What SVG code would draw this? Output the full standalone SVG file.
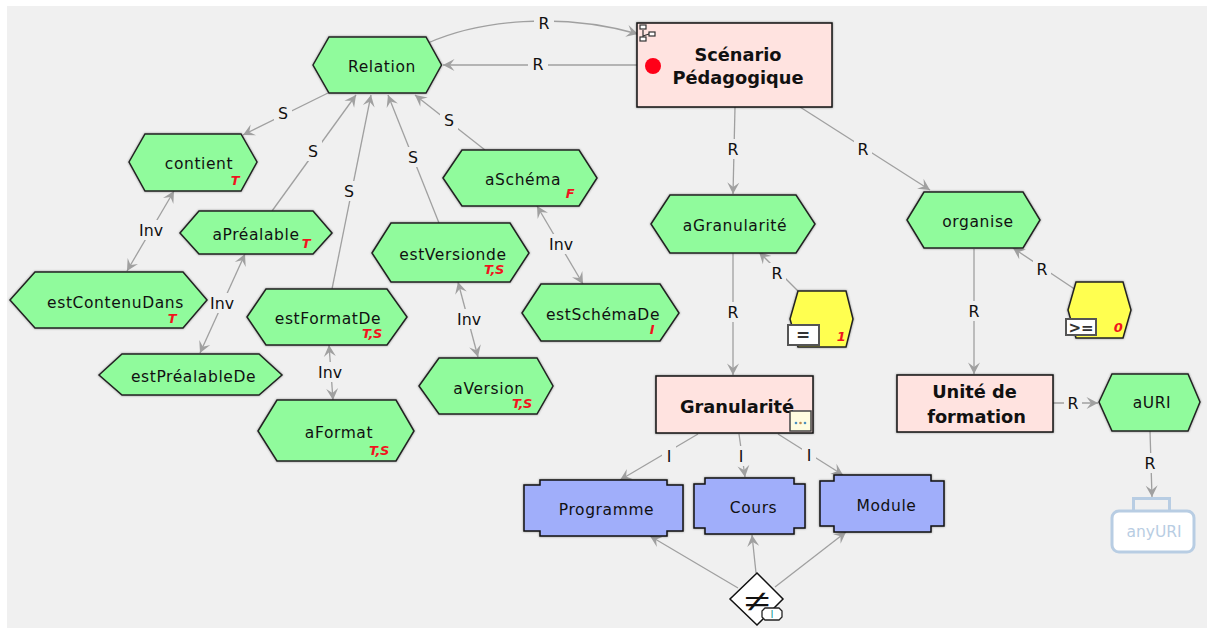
<svg xmlns="http://www.w3.org/2000/svg" width="1207" height="628" viewBox="0 0 1207 628">
<style>
text{font-family:"DejaVu Sans","Liberation Sans",sans-serif;text-anchor:middle;fill:#111}
.n{font-size:15.500px;letter-spacing:.6px}
.b{font-size:17.800px;font-weight:bold}
.l{font-size:15.800px}
.t{font-size:13px;font-weight:bold;font-style:italic;fill:#f0141e;letter-spacing:-.4px}
.h{fill:#90fb9c;stroke:#222;stroke-width:1.5}
.y{fill:#ffff50;stroke:#222;stroke-width:1.5}
.p{fill:#ffe3e0;stroke:#111;stroke-width:1.5}
.c{fill:#a0aefa;stroke:#111;stroke-width:1.5}
.h,.y,.p,.c{filter:drop-shadow(0 0 1px rgba(0,0,0,.4))}
.e{fill:none;stroke:#a0a0a0;stroke-width:1.300}
.a{marker-end:url(#ar)}
.d{marker-start:url(#ar);marker-end:url(#ar)}
.g{fill:#f0f0f0}
.tag{fill:#fff;stroke:#555;stroke-width:2}
</style>
<defs>
<marker id="ar" markerUnits="userSpaceOnUse" markerWidth="14" markerHeight="14" refX="13" refY="7" orient="auto-start-reverse" viewBox="0 0 14 14">
<path d="M1.500,1 L13,7 L1.500,13 L6,7 Z" fill="#a0a0a0"/>
</marker>
</defs>
<rect x="7" y="6" width="1200" height="622" class="g"/>
<g id="connectors">
<path class="e a" d="M428,43 C480,20 560,12 638,34"/>
<path class="e a" d="M637,65 L443,65"/>
<path class="e a" d="M328,93 L243,135"/>
<path class="e a" d="M272,211 L356,95"/>
<path class="e a" d="M332,289 L371,95"/>
<path class="e a" d="M439,223 L388,95"/>
<path class="e a" d="M485,150 L415,95"/>
<path class="e d" d="M127,271 L174,191"/>
<path class="e d" d="M200,353 L245,254"/>
<path class="e d" d="M333,400 L329,345"/>
<path class="e d" d="M478,357 L458,282"/>
<path class="e d" d="M583,284 L537,206"/>
<path class="e a" d="M735,107 L733,194"/>
<path class="e a" d="M800,107 L930,190"/>
<path class="e a" d="M733,253 L733,375"/>
<path class="e a" d="M798,291 L759,252"/>
<path class="e a" d="M1076,290 L1013,248"/>
<path class="e a" d="M974,249 L974,374"/>
<path class="e a" d="M1053,403 L1098,403"/>
<path class="e a" d="M1150,431 L1152,497"/>
<path class="e a" d="M698,434 L620,480"/>
<path class="e a" d="M739,434 L745,477"/>
<path class="e a" d="M778,434 L843,475"/>
<path class="e a" d="M738,588 L650,536"/>
<path class="e a" d="M756,573 L752,535"/>
<path class="e a" d="M775,587 L846,532"/>
<g id="edge-labels">
<rect class="g" x="534" y="13" width="20" height="20"/><text class="l" x="544" y="29">R</text>
<rect class="g" x="528" y="54" width="20" height="20"/><text class="l" x="538" y="70">R</text>
<rect class="g" x="274" y="103" width="18" height="20"/><text class="l" x="283" y="119">S</text>
<rect class="g" x="304" y="141" width="18" height="20"/><text class="l" x="313" y="157">S</text>
<rect class="g" x="340" y="181" width="18" height="20"/><text class="l" x="349" y="197">S</text>
<rect class="g" x="404" y="147" width="18" height="20"/><text class="l" x="413" y="163">S</text>
<rect class="g" x="440" y="110" width="18" height="20"/><text class="l" x="449" y="126">S</text>
<rect class="g" x="137" y="220" width="28" height="20"/><text class="l" x="151" y="236">Inv</text>
<rect class="g" x="208" y="293" width="28" height="20"/><text class="l" x="222" y="309">Inv</text>
<rect class="g" x="316" y="362" width="28" height="20"/><text class="l" x="330" y="378">Inv</text>
<rect class="g" x="455" y="309" width="28" height="20"/><text class="l" x="469" y="325">Inv</text>
<rect class="g" x="547" y="234" width="28" height="20"/><text class="l" x="561" y="250">Inv</text>
<rect class="g" x="724" y="139" width="18" height="20"/><text class="l" x="733" y="155">R</text>
<rect class="g" x="854" y="139" width="18" height="20"/><text class="l" x="863" y="155">R</text>
<rect class="g" x="724" y="302" width="18" height="20"/><text class="l" x="733" y="318">R</text>
<rect class="g" x="768" y="263" width="18" height="20"/><text class="l" x="777" y="279">R</text>
<rect class="g" x="1033" y="259" width="18" height="20"/><text class="l" x="1042" y="275">R</text>
<rect class="g" x="965" y="301" width="18" height="20"/><text class="l" x="974" y="317">R</text>
<rect class="g" x="1064" y="393" width="18" height="20"/><text class="l" x="1073" y="409">R</text>
<rect class="g" x="1141" y="453" width="18" height="20"/><text class="l" x="1150" y="469">R</text>
<rect class="g" x="662" y="446" width="14" height="20"/><text class="l" x="669" y="462">I</text>
<rect class="g" x="734" y="446" width="14" height="20"/><text class="l" x="741" y="462">I</text>
<rect class="g" x="802" y="445" width="14" height="20"/><text class="l" x="809" y="461">I</text>
</g>
</g>
<g id="relation"><polygon class="h" points="313,65 329,37 426,37 441.500,65 426,93 329,93"/><text class="n" x="382" y="72">Relation</text></g>
<g id="contient"><polygon class="h" points="129,162 145,134 241,134 257,162 241,191 145,191"/><text class="n" x="199" y="169">contient</text><text class="t" x="235" y="185">T</text></g>
<g id="apprealable"><polygon class="h" points="180,233 199,211 313,211 332,233 313,254 199,254"/><text class="n" x="256" y="240">aPréalable</text><text class="t" x="306" y="248">T</text></g>
<g id="estContenuDans"><polygon class="h" points="10,300 35,272 183,272 207,300 183,328 35,328"/><text class="n" x="115.500" y="308">estContenuDans</text><text class="t" x="172" y="323">T</text></g>
<g id="estPrealableDe"><polygon class="h" points="99,375 122,354 259,354 282,375 259,395 122,395"/><text class="n" x="193.500" y="382">estPréalableDe</text></g>
<g id="estFormatDe"><polygon class="h" points="247,317 266,289 387,289 407,317 387,345 266,345"/><text class="n" x="328" y="324">estFormatDe</text><text class="t" x="372" y="338">T,S</text></g>
<g id="aFormat"><polygon class="h" points="258,431 277,400 396,400 414,431 396,461 277,461"/><text class="n" x="339" y="438">aFormat</text><text class="t" x="379" y="455">T,S</text></g>
<g id="estVersionde"><polygon class="h" points="372,253 391,223 510,223 529,253 510,282 391,282"/><text class="n" x="453" y="260">estVersionde</text><text class="t" x="494" y="274">T,S</text></g>
<g id="aVersion"><polygon class="h" points="419,386 439,358 537,358 553,386 537,414 439,414"/><text class="n" x="489" y="394">aVersion</text><text class="t" x="522" y="408">T,S</text></g>
<g id="aSchema"><polygon class="h" points="443,178 462,150 579,150 597,178 579,206 462,206"/><text class="n" x="523" y="185">aSchéma</text><text class="t" x="570" y="198">F</text></g>
<g id="estSchemaDe"><polygon class="h" points="522,313 541,284 660,284 679,313 660,341 541,341"/><text class="n" x="603" y="320">estSchémaDe</text><text class="t" x="652" y="334">I</text></g>
<g id="aGranularite"><polygon class="h" points="651,224 670,195 796,195 815,224 796,253 670,253"/><text class="n" x="735" y="231">aGranularité</text></g>
<g id="organise"><polygon class="h" points="907,220 924,192 1023,192 1040,220 1023,248 924,248"/><text class="n" x="978" y="227">organise</text></g>
<g id="aURI"><polygon class="h" points="1099,402 1112,374 1188,374 1200,402 1188,431 1112,431"/><text class="n" x="1152" y="408">aURI</text></g>
<g id="restriction-1"><polygon class="y" points="790,319 798,291 846,291 853,319 846,347 798,347"/><rect class="tag" x="788" y="325" width="31" height="20"/><text x="803" y="341" style="font-size:17px;font-weight:bold;fill:#333">=</text><text class="t" x="841" y="341">1</text></g>
<g id="restriction-0"><polygon class="y" points="1068,310 1076,282 1123,282 1131,310 1123,338 1076,338"/><rect class="tag" x="1066" y="319" width="30" height="16"/><text x="1081" y="333" style="font-size:15px;font-weight:bold;fill:#333">&gt;=</text><text class="t" x="1118" y="332">0</text></g>
<g id="scenario"><rect class="p" x="637" y="23" width="195" height="84"/><text class="b" x="738" y="61">Scénario</text><text class="b" x="738" y="84">Pédagogique</text><circle cx="653" cy="66" r="8" fill="#ff0018"/>
<g fill="#fff" stroke="#333" stroke-width="1.200"><path d="M643,30 V36 M643,36 L649,34 M643,36 V40" fill="none"/><rect x="640" y="25" width="6" height="4"/><rect x="649" y="32" width="6" height="4"/><rect x="640" y="37" width="6" height="4"/></g></g>
<g id="granularite"><rect class="p" x="656" y="376" width="157" height="57"/><text class="b" x="737" y="413">Granularité</text><rect x="790" y="411" width="21" height="20" fill="#fffde0" stroke="#444" stroke-width="1.500"/><circle cx="796" cy="423" r="1.300" fill="#4a90c0"/><circle cx="800.500" cy="423" r="1.300" fill="#c08a50"/><circle cx="805" cy="423" r="1.300" fill="#4a90c0"/></g>
<g id="unite"><rect class="p" x="897" y="375" width="156" height="57"/><text class="b" x="974.500" y="398">Unité de</text><text class="b" x="976.500" y="423">formation</text></g>
<g id="programme"><polygon class="c" points="524,485 540,485 540,480 667,480 667,485 683,485 683,531 667,531 667,536 540,536 540,531 524,531"/><text class="n" x="606.500" y="515">Programme</text></g>
<g id="cours"><polygon class="c" points="694,484 705,484 705,478 794,478 794,484 805,484 805,528 794,528 794,534 705,534 705,528 694,528"/><text class="n" x="753.500" y="513">Cours</text></g>
<g id="module"><polygon class="c" points="820,481 834,481 834,475 931,475 931,481 944,481 944,526 931,526 931,532 834,532 834,526 820,526"/><text class="n" x="886.500" y="511">Module</text></g>
<g id="disjoint"><polygon points="757,573 783,599 757,625 730,599" fill="#fff" stroke="#111" stroke-width="1.500"/><text transform="translate(757,611) scale(1.150,.720)" style="font-family:'Liberation Sans',sans-serif;font-size:40px">≠</text><polygon points="765,608 779,608 782,611 782,617 779,620 765,620 762,617 762,611" fill="#fff" stroke="#222" stroke-width="1.300"/><text x="772" y="618" style="font-size:10px;fill:#1a9a9a">I</text></g>
<g id="anyURI"><rect x="1133.500" y="498.500" width="36" height="14" fill="none" stroke="#b8cde3" stroke-width="3"/><rect x="1112" y="511" width="82" height="41" rx="7" fill="#fff" stroke="#b8cde3" stroke-width="3"/><text x="1154" y="537" style="font-size:15.500px;fill:#b8cde3">anyURI</text></g>
</svg>
